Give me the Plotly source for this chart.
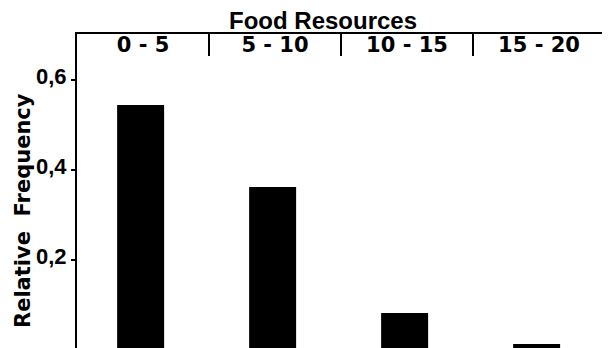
import plotly.graph_objects as go

categories = ["0 - 5", "5 - 10", "10 - 15", "15 - 20"]
rel_freq = [0.544, 0.362, 0.082, 0.013]
y_tickvals = [0.2, 0.4, 0.6]
y_ticktext = ["0,2", "0,4", "0,6"]

LIB = "Liberation Sans, Arial, sans-serif"
DJV = "DejaVu Sans, sans-serif"

# the page body adds an 8px margin, so the figure is sized to fill the rest
OFF = 8
W, H = 610 - OFF, 348 - OFF
PL, PR, PT, PB = 77, 605, 34, 348  # plot area in window pixels
pw, ph = PR - PL, PB - PT

fig = go.Figure()
fig.add_trace(go.Bar(
    x=categories, y=rel_freq,
    marker=dict(color="black", line=dict(width=0)),
    width=0.356, offset=-0.196,
))

fig.update_layout(
    width=W, height=H,
    margin=dict(l=PL - OFF, r=610 - PR, t=PT - OFF, b=0),
    paper_bgcolor="white", plot_bgcolor="white",
    showlegend=False,
    font=dict(family=LIB, color="black"),
    xaxis=dict(
        type="category", side="top", automargin=False,
        showline=True, linecolor="black", linewidth=2,
        ticks="inside", tickson="boundaries", ticklen=22, tickwidth=2, tickcolor="black",
        ticklabelposition="inside", ticklabelstandoff=-17,
        tickfont=dict(size=21, family=DJV, weight="bold", color="black"),
        showgrid=False, zeroline=False,
    ),
    yaxis=dict(
        range=[0.004, 0.702], automargin=False,
        showline=True, linecolor="black", linewidth=2, mirror=True,
        ticks="outside", ticklen=4, tickwidth=2, tickcolor="black",
        tickvals=y_tickvals, ticktext=y_ticktext, ticklabelshift=-4,
        tickfont=dict(size=22, family=LIB, weight="bold", color="black"),
        showgrid=False, zeroline=False,
    ),
    annotations=[
        dict(text="Food Resources", xref="paper", yref="paper",
             x=(322.5 - PL) / pw, y=1 + (PT - 21) / ph, xanchor="center", yanchor="middle",
             borderpad=0,
             showarrow=False, font=dict(size=24, family=LIB, weight="bold", color="black")),
        dict(text="Relative  Frequency", xref="paper", yref="paper",
             x=(23 - PL) / pw, y=(PB - 211) / ph, xanchor="center", yanchor="middle",
             textangle=-90,
             showarrow=False, font=dict(size=21, family=DJV, weight="bold", color="black")),
    ],
)

fig.write_html("out.html")
